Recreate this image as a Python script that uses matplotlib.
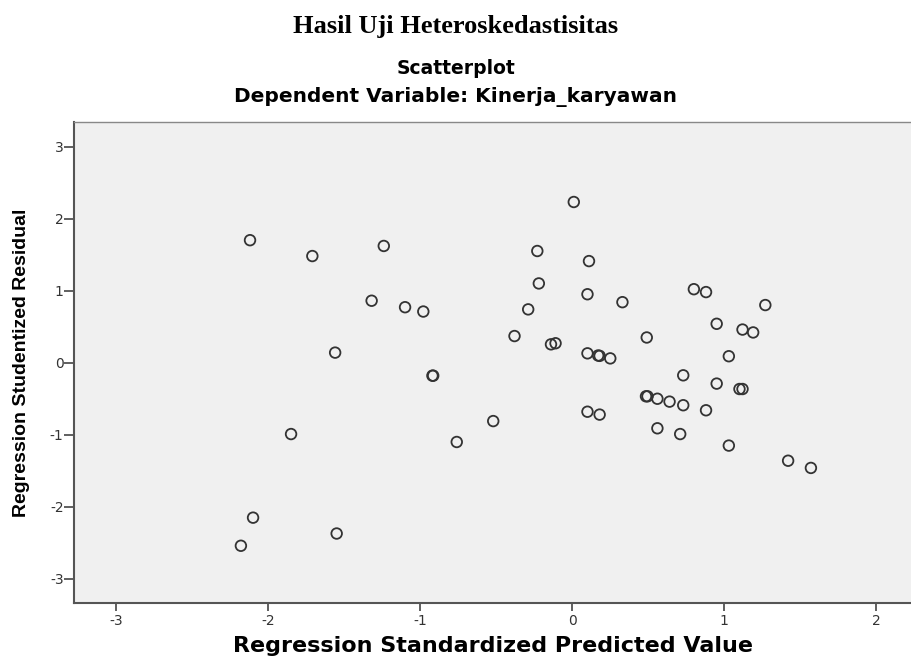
import matplotlib
matplotlib.use("Agg")
import numpy as np
import matplotlib.pyplot as plt

predicted = [
    -2.12, -1.85, -2.10, -2.18, -1.71, -1.24, -1.32, -1.10, -0.98, -1.56,
    -0.92, -0.915, -0.76, -0.52, -1.55,
    0.01, -0.23, 0.11, -0.22, 0.10, 0.33, -0.29, -0.38, -0.14, -0.11,
    0.10, 0.17, 0.18, 0.25, 0.10, 0.18,
    0.80, 0.88, 1.27, 0.49, 0.95, 1.12, 1.19, 1.03, 0.73, 0.95,
    1.10, 1.12, 0.485, 0.495, 0.56, 0.64, 0.73, 0.88, 0.56, 0.71,
    1.03, 1.42, 1.57,
]
residual = [
    1.70, -0.99, -2.15, -2.54, 1.48, 1.62, 0.86, 0.77, 0.71, 0.14,
    -0.18, -0.18, -1.10, -0.81, -2.37,
    2.23, 1.55, 1.41, 1.10, 0.95, 0.84, 0.74, 0.37, 0.255, 0.27,
    0.13, 0.10, 0.095, 0.06, -0.68, -0.72,
    1.02, 0.98, 0.80, 0.35, 0.54, 0.46, 0.42, 0.09, -0.175, -0.29,
    -0.365, -0.365, -0.466, -0.466, -0.50, -0.54, -0.59, -0.66, -0.91, -0.99,
    -1.15, -1.36, -1.46,
]

x_ticks = [-3, -2, -1, 0, 1, 2]
y_ticks = [-3, -2, -1, 0, 1, 2, 3]

# ─── Plot ─────────────────────────────────────────────────────────────────────

plt.rcParams["axes.unicode_minus"] = False

fig = plt.figure(figsize=(9.12, 6.62), dpi=100)
fig.patch.set_facecolor("white")

ax = fig.add_axes([74 / 912, 1 - 602.7 / 662, 1 - 74 / 912, (602.7 - 122) / 662])
ax.set_facecolor("#f0f0f0")

ax.scatter(predicted, residual, s=58, facecolors="none",
           edgecolors="#333333", linewidths=1.3, zorder=3)

ax.set_xlim(-3.278, 2.235)
ax.set_ylim(-3.33, 3.34)
ax.set_xticks(x_ticks)
ax.set_yticks(y_ticks)
ax.tick_params(direction="out", width=1.2, color="#444444",
               labelsize=10, labelcolor="#333333")
ax.tick_params(axis="y", length=7, pad=0.5)
ax.tick_params(axis="x", length=6, pad=2)

for side in ["left", "bottom"]:
    ax.spines[side].set_color("#555555")
    ax.spines[side].set_linewidth(1.5)
ax.spines["top"].set_color("#888888")
ax.spines["top"].set_linewidth(1.0)
ax.spines["right"].set_visible(False)

ax.set_xlabel("Regression Standardized Predicted Value", labelpad=6,
              family="DejaVu Sans", weight="bold", size=16, color="black")
ax.set_ylabel("Regression Studentized Residual", labelpad=14.5,
              family="Liberation Sans", weight="bold", size=14, color="black")
for lbl in ax.get_xticklabels() + ax.get_yticklabels():
    lbl.set_family("DejaVu Sans")

fig.text(0.5, 1 - 27 / 662, "Hasil Uji Heteroskedastisitas", ha="center", va="center",
         family="Liberation Serif", weight="bold", size=19)
fig.text(0.5, 1 - 68 / 662, "Scatterplot", ha="center", va="center",
         family="DejaVu Sans", weight="bold", size=13.5)
fig.text(0.5, 1 - 97 / 662, "Dependent Variable: Kinerja_karyawan", ha="center",
         va="center", family="DejaVu Sans", weight="bold", size=14.5)

plt.savefig("out.png", dpi=100)
